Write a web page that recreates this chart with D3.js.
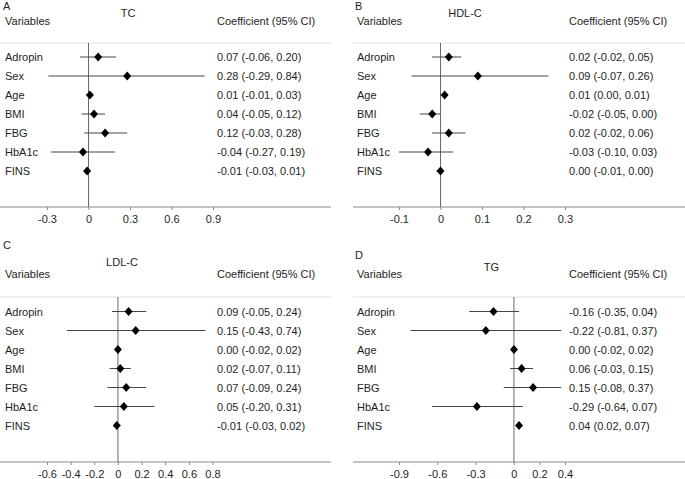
<!DOCTYPE html>
<html>
<head>
<meta charset="utf-8">
<script src="https://cdn.jsdelivr.net/npm/d3@7"></script>
<style>
  html, body { margin: 0; padding: 0; background: #fff; }
  svg { display: block; }
  text { font-family: "Liberation Sans", Arial, sans-serif; font-size: 11px; fill: #1e1e1e; }
</style>
</head>
<body>
<svg id="chart" width="685" height="479"></svg>
<script>
const variables = ["Adropin", "Sex", "Age", "BMI", "FBG", "HbA1c", "FINS"];

const tcEst  = [0.07, 0.28, 0.01, 0.04, 0.12, -0.04, -0.01];
const tcLow  = [-0.06, -0.29, -0.01, -0.05, -0.03, -0.27, -0.03];
const tcHigh = [0.20, 0.84, 0.03, 0.12, 0.28, 0.19, 0.01];

const hdlEst  = [0.02, 0.09, 0.01, -0.02, 0.02, -0.03, 0.00];
const hdlLow  = [-0.02, -0.07, 0.00, -0.05, -0.02, -0.10, -0.01];
const hdlHigh = [0.05, 0.26, 0.01, 0.00, 0.06, 0.03, 0.00];

const ldlEst  = [0.09, 0.15, 0.00, 0.02, 0.07, 0.05, -0.01];
const ldlLow  = [-0.05, -0.43, -0.02, -0.07, -0.09, -0.20, -0.03];
const ldlHigh = [0.24, 0.74, 0.02, 0.11, 0.24, 0.31, 0.02];

const tgEst  = [-0.16, -0.22, 0.00, 0.06, 0.15, -0.29, 0.04];
const tgLow  = [-0.35, -0.81, -0.02, -0.03, -0.08, -0.64, 0.02];
const tgHigh = [0.04, 0.37, 0.02, 0.15, 0.37, 0.07, 0.07];

const tcTicks  = [-0.3, 0, 0.3, 0.6, 0.9];
const hdlTicks = [-0.1, 0, 0.1, 0.2, 0.3];
const ldlTicks = [-0.6, -0.4, -0.2, 0, 0.2, 0.4, 0.6, 0.8];
const tgTicks  = [-0.9, -0.6, -0.3, 0, 0.2, 0.4];

const panelLetters = ["A", "B", "C", "D"];
const panelTitles  = ["TC", "HDL-C", "LDL-C", "TG"];
const headerVar  = "Variables";
const headerCoef = "Coefficient (95% CI)";

const panels = [
  { letter: panelLetters[0], title: panelTitles[0], est: tcEst, low: tcLow, high: tcHigh, ticks: tcTicks,
    domain: [-0.3, 0.9], x0: 0, lineL: 0, lineR: 331, range: [47, 213], labelX: 5, coefX: 217,
    letterY: 9.5, titleX: 128, titleY: 17, headY: 24.5, sepY: 43, rowY0: 57, axisY: 207 },
  { letter: panelLetters[1], title: panelTitles[1], est: hdlEst, low: hdlLow, high: hdlHigh, ticks: hdlTicks,
    domain: [-0.1, 0.3], x0: 340, lineL: 353, lineR: 685, range: [399, 565], labelX: 357, coefX: 569,
    letterX: 355, letterY: 9.5, titleX: 465, titleY: 17, headY: 24.5, sepY: 43, rowY0: 57, axisY: 207 },
  { letter: panelLetters[2], title: panelTitles[2], est: ldlEst, low: ldlLow, high: ldlHigh, ticks: ldlTicks,
    domain: [-0.6, 0.8], x0: 0, lineL: 0, lineR: 331, range: [47, 212.5], labelX: 5, coefX: 217,
    letterY: 249, titleX: 122, titleY: 265.5, headY: 278, sepY: 297, rowY0: 311.5, axisY: 462 },
  { letter: panelLetters[3], title: panelTitles[3], est: tgEst, low: tgLow, high: tgHigh, ticks: tgTicks,
    domain: [-0.9, 0.4], x0: 340, lineL: 353, lineR: 685, range: [399, 565], labelX: 357, coefX: 569,
    letterX: 355, letterY: 259, titleX: 491.5, titleY: 270.5, headY: 278, sepY: 297, rowY0: 311.5, axisY: 462 }
];

const svg = d3.select("#chart");
const f2 = v => v.toFixed(2);
const tickFmt = d => d === 0 ? "0" : d.toFixed(1);

panels.forEach(p => {
  const g = svg.append("g");
  const x = d3.scaleLinear().domain(p.domain).range(p.range);
  const y = d3.scaleLinear().domain([0, 1]).range([p.rowY0, p.rowY0 + 19]);

  g.append("text").attr("x", p.letterX !== undefined ? p.letterX : p.labelX - 2).attr("y", p.letterY).text(p.letter);
  g.append("text").attr("x", p.titleX).attr("y", p.titleY).attr("text-anchor", "middle").text(p.title);
  g.append("text").attr("x", p.labelX).attr("y", p.headY).text(headerVar);
  g.append("text").attr("x", p.coefX).attr("y", p.headY).text(headerCoef);

  g.append("line").attr("x1", p.lineL).attr("x2", p.lineR).attr("y1", p.sepY).attr("y2", p.sepY)
    .attr("stroke", "#e2e2e2").attr("stroke-width", 1);

  g.append("line").attr("x1", p.lineL).attr("x2", p.lineR).attr("y1", p.axisY).attr("y2", p.axisY)
    .attr("stroke", "#8a8a8a").attr("stroke-width", 1);

  const axis = d3.axisBottom(x).tickValues(p.ticks).tickFormat(tickFmt).tickSize(3).tickSizeOuter(0).tickPadding(5);
  const ag = g.append("g").attr("transform", `translate(0,${p.axisY})`).call(axis);
  ag.select(".domain").remove();
  ag.selectAll(".tick line").attr("stroke", "#8a8a8a");
  ag.selectAll(".tick text").style("font-family", '"Liberation Sans", Arial, sans-serif').style("font-size", "11px").attr("fill", "#1e1e1e");

  g.append("line").attr("x1", x(0)).attr("x2", x(0)).attr("y1", p.sepY).attr("y2", p.axisY)
    .attr("stroke", "#6a6a6a").attr("stroke-width", 1);

  variables.forEach((v, i) => {
    const cy = y(i);
    g.append("text").attr("x", p.labelX).attr("y", cy + 4).text(v);
    g.append("text").attr("x", p.coefX).attr("y", cy + 4)
      .text(`${f2(p.est[i])} (${f2(p.low[i])}, ${f2(p.high[i])})`);
    g.append("line").attr("x1", x(p.low[i])).attr("x2", x(p.high[i])).attr("y1", cy).attr("y2", cy)
      .attr("stroke", "#444").attr("stroke-width", 1);
    const cx = x(p.est[i]);
    g.append("path")
      .attr("d", `M${cx},${cy - 4.5}L${cx + 4},${cy}L${cx},${cy + 4.5}L${cx - 4},${cy}Z`)
      .attr("fill", "#000");
  });
});
</script>
</body>
</html>
